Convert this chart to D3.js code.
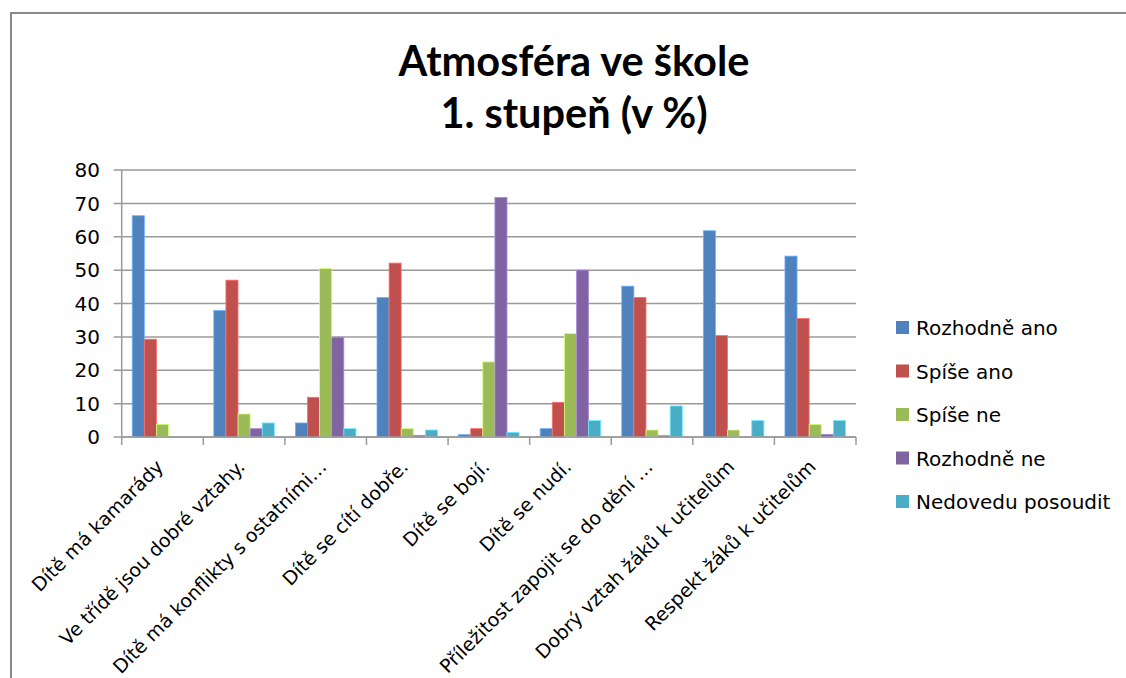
<!DOCTYPE html>
<html><head><meta charset="utf-8">
<script src="https://cdn.jsdelivr.net/npm/d3@7"></script>
<style>body{margin:0;background:#fff}svg{display:block}</style>
</head><body>
<svg id="chart" width="1126" height="678"></svg>
<script>
const categories = ["Dítě má kamarády","Ve třídě jsou dobré vztahy.","Dítě má konflikty s ostatními…","Dítě se cítí dobře.","Dítě se bojí.","Dítě se nudí.","Příležitost zapojit se do dění …","Dobrý vztah žáků k učitelům","Respekt žáků k učitelům"];
const seriesNames = ["Rozhodně ano","Spíše ano","Spíše ne","Rozhodně ne","Nedovedu posoudit"];
const rozhodneAno = [66.3, 37.9, 4.2, 41.8, 0.7, 2.5, 45.2, 61.8, 54.2];
const spiseAno    = [29.3, 47.0, 11.9, 52.1, 2.5, 10.4, 41.8, 30.4, 35.5];
const spiseNe     = [3.8, 6.9, 50.5, 2.5, 22.5, 31.0, 2.1, 2.1, 3.8];
const rozhodneNe  = [0, 2.5, 29.9, 0.5, 71.8, 50.0, 0.4, 0, 0.8];
const nedovedu    = [0, 4.2, 2.5, 2.1, 1.4, 4.9, 9.3, 4.9, 4.9];
const yTicks = [0,10,20,30,40,50,60,70,80];
const titleLines = ["Atmosféra ve škole","1. stupeň (v %)"];
const colors = ["#4F81BD","#C0504D","#9BBB59","#8064A2","#4BACC6"];

(function(){
const seriesValues = [rozhodneAno, spiseAno, spiseNe, rozhodneNe, nedovedu];
const svg = d3.select("#chart");
const font = "'DejaVu Sans', sans-serif";

// outer frame
svg.append("rect").attr("x",11).attr("y",13).attr("width",1200).attr("height",800)
  .attr("fill","none").attr("stroke","#8a8a8a").attr("stroke-width",2);

// title
svg.append("g").selectAll("text").data(titleLines).join("text")
  .attr("x",574).attr("y",(d,i)=>76+i*52)
  .attr("text-anchor","middle").attr("font-family","Lato, sans-serif")
  .attr("font-weight","bold").attr("font-size",41.5).attr("fill","#000").text(d=>d);

const pLeft=121.7, pRight=856, pTop=170, pBottom=437;
const x0 = d3.scaleBand().domain(categories).range([pLeft,pRight]).padding(0);
const x1 = d3.scaleBand().domain(seriesNames).range([0,x0.bandwidth()]).paddingInner(0).paddingOuter(0.87);
const y = d3.scaleLinear().domain([0,80]).range([pBottom,pTop]);

// gridlines
svg.append("g").selectAll("line").data(yTicks).join("line")
  .attr("x1",pLeft-8).attr("x2",pRight).attr("y1",d=>y(d)).attr("y2",d=>y(d))
  .attr("stroke","#9a9a9a").attr("stroke-width",1.5);

// y labels
svg.append("g").selectAll("text").data(yTicks).join("text")
  .attr("x",100).attr("y",d=>y(d)).attr("dy","0.36em").attr("text-anchor","end")
  .attr("font-family",font).attr("font-size",20).attr("fill","#000").text(d=>d);

// y axis line
svg.append("line").attr("x1",pLeft).attr("x2",pLeft).attr("y1",pTop).attr("y2",pBottom)
  .attr("stroke","#9a9a9a").attr("stroke-width",1.5);

// bars
const data = [];
categories.forEach((c,ci)=>seriesNames.forEach((s,si)=>data.push({c,s,si,v:seriesValues[si][ci]})));
svg.append("g").selectAll("rect").data(data.filter(d=>d.v>0)).join("rect")
  .attr("x",d=>x0(d.c)+x1(d.s)).attr("width",x1.bandwidth())
  .attr("y",d=>y(d.v)).attr("height",d=>y(0)-y(d.v))
  .attr("fill",d=>colors[d.si])
  .attr("stroke",d=>d3.color(colors[d.si]).brighter(0.9)).attr("stroke-width",0.8);

// x axis line and ticks
svg.append("line").attr("x1",pLeft).attr("x2",pRight).attr("y1",pBottom).attr("y2",pBottom)
  .attr("stroke","#9a9a9a").attr("stroke-width",1.5);
const bounds = categories.map(c=>x0(c)).concat([pRight]);
svg.append("g").selectAll("line").data(bounds).join("line")
  .attr("x1",d=>d).attr("x2",d=>d).attr("y1",pBottom).attr("y2",pBottom+8)
  .attr("stroke","#9a9a9a").attr("stroke-width",1.5);

// x labels
svg.append("g").selectAll("text").data(categories).join("text")
  .attr("transform",d=>`translate(${x0(d)+x0.bandwidth()/2+2},${pBottom+31}) rotate(-45)`)
  .attr("text-anchor","end").attr("font-family",font).attr("font-size",19).attr("fill","#000")
  .text(d=>d);

// legend
const lg = svg.append("g").selectAll("g").data(seriesNames).join("g")
  .attr("transform",(d,i)=>`translate(896,${328+i*43.5})`);
lg.append("rect").attr("x",0).attr("y",-7).attr("width",13).attr("height",13)
  .attr("fill",(d,i)=>colors[i]);
lg.append("text").attr("x",20).attr("y",0).attr("dy","0.36em")
  .attr("font-family",font).attr("font-size",20).attr("fill","#000").text(d=>d);
})();
</script>
</body></html>
